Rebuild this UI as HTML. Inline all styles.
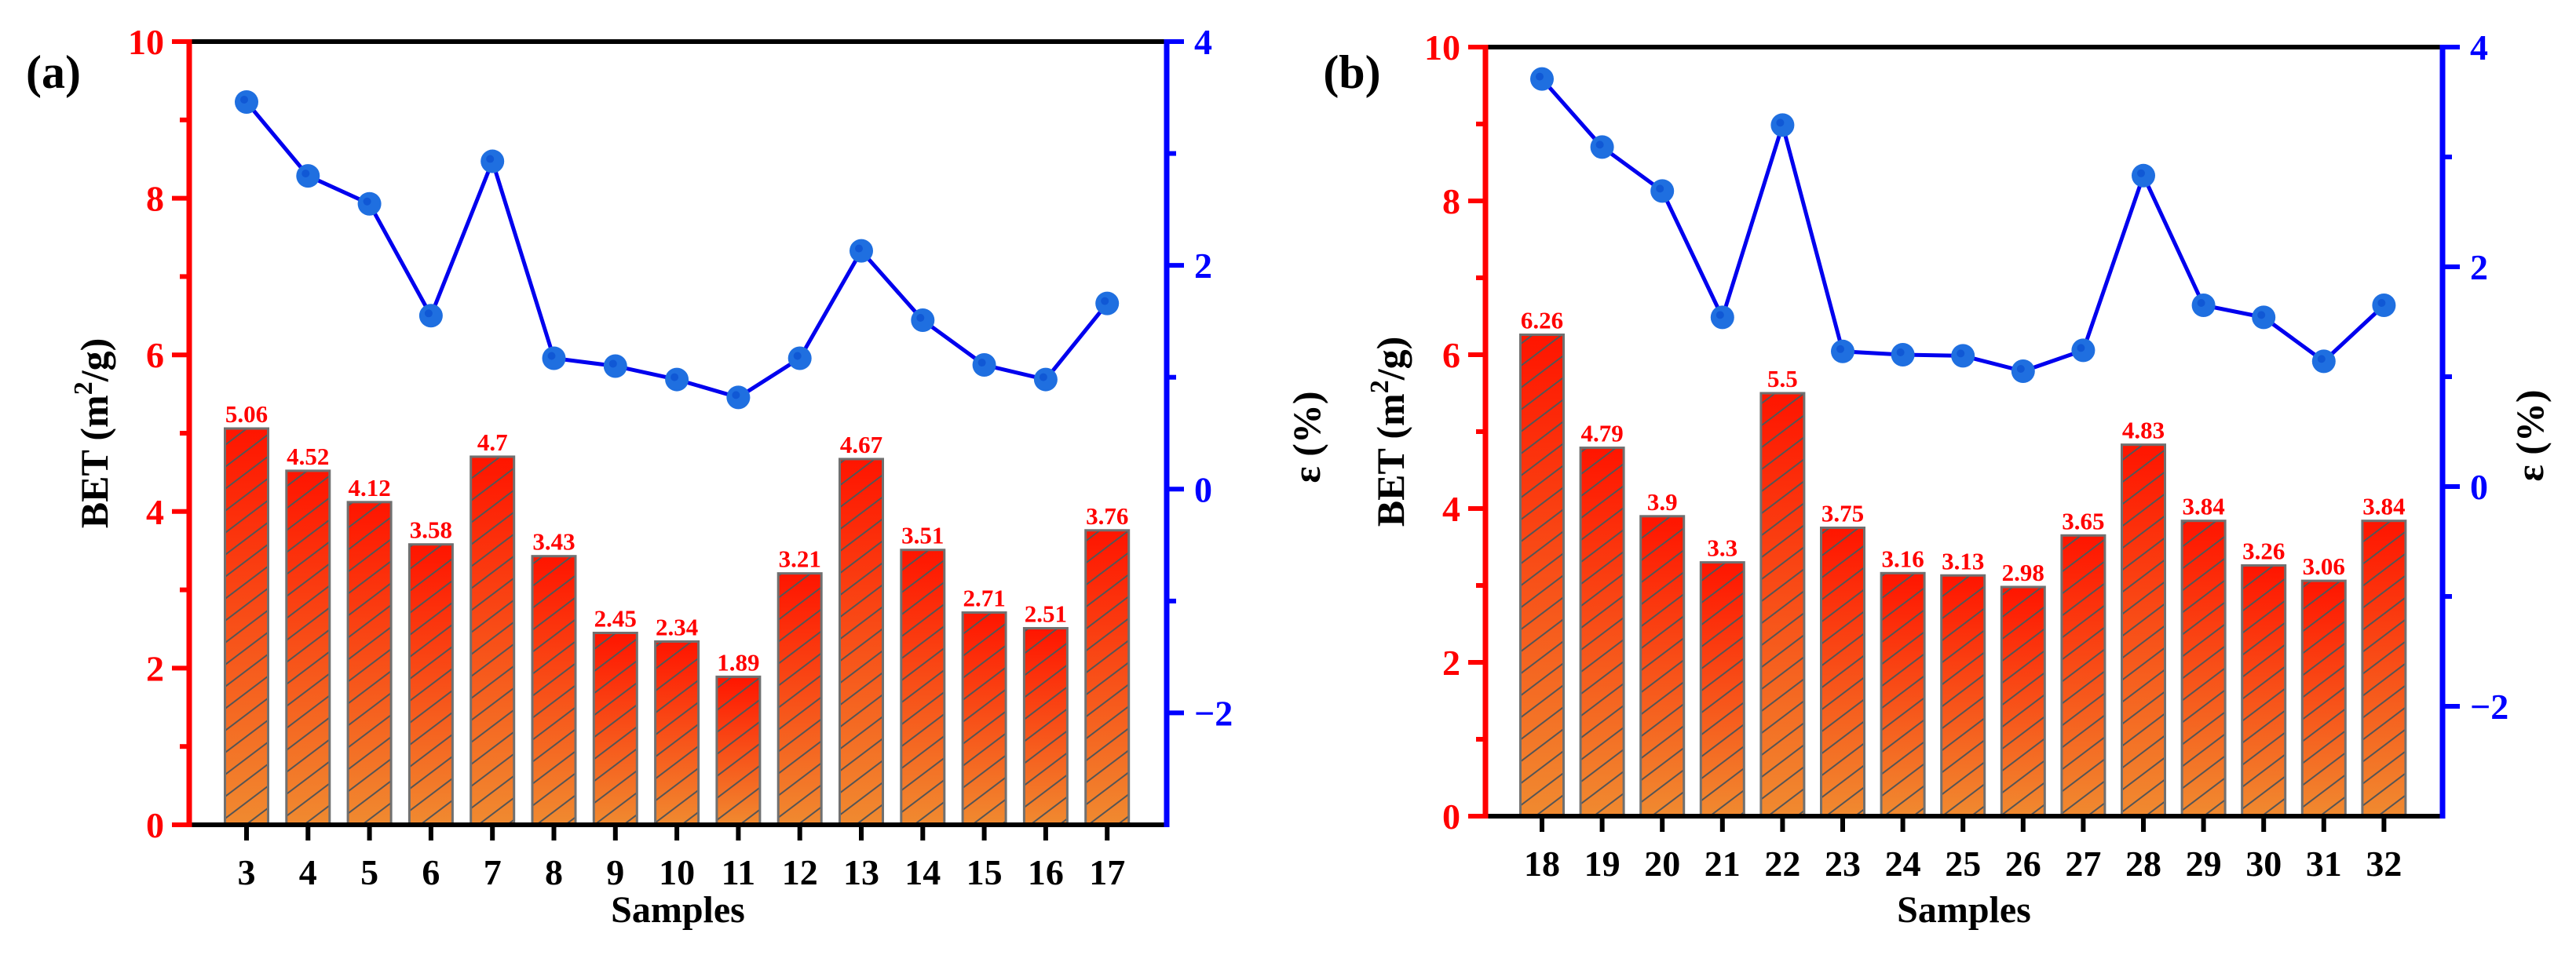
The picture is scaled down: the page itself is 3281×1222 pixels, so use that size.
<!DOCTYPE html>
<html><head><meta charset="utf-8">
<style>
html,body{margin:0;padding:0;background:#fff;}
svg{display:block;}
text{font-family:"Liberation Serif",serif;font-weight:bold;}
</style></head>
<body>
<svg id="chart" width="3281" height="1222" viewBox="0 0 3281 1222" xmlns="http://www.w3.org/2000/svg">
<defs>
<linearGradient id="barGrad" x1="0" y1="0" x2="0" y2="1">
<stop offset="0" stop-color="#ff1500"/>
<stop offset="1" stop-color="#f08a30"/>
</linearGradient>
<pattern id="hatch" patternUnits="userSpaceOnUse" width="37" height="28">
<line x1="-37" y1="28" x2="37" y2="-28" stroke="#555" stroke-width="2"/>
<line x1="0" y1="28" x2="37" y2="0" stroke="#555" stroke-width="2"/>
<line x1="0" y1="56" x2="74" y2="0" stroke="#555" stroke-width="2"/>
</pattern>
</defs>
</svg>
<script>
// Panel (a) data
const catsA = [3,4,5,6,7,8,9,10,11,12,13,14,15,16,17];
const betA = [5.06,4.52,4.12,3.58,4.7,3.43,2.45,2.34,1.89,3.21,4.67,3.51,2.71,2.51,3.76];
const epsA = [3.46,2.80,2.55,1.55,2.93,1.17,1.10,0.98,0.82,1.17,2.13,1.51,1.11,0.98,1.66];
// Panel (b) data
const catsB = [18,19,20,21,22,23,24,25,26,27,28,29,30,31,32];
const betB = [6.26,4.79,3.9,3.3,5.5,3.75,3.16,3.13,2.98,3.65,4.83,3.84,3.26,3.06,3.84];
const epsB = [3.71,3.09,2.69,1.54,3.29,1.23,1.20,1.19,1.05,1.24,2.83,1.65,1.54,1.14,1.65];
// Tick labels
const leftTicks = [0,2,4,6,8,10];
const leftMinor = [1,3,5,7,9];
const rightTicks = [-2,0,2,4];
const rightMinor = [-1,1,3];

const NS = "http://www.w3.org/2000/svg";
const svg = document.getElementById('chart');
function mk(tag, attrs, parent, txt){
  const e = document.createElementNS(NS, tag);
  for (const k in attrs) e.setAttribute(k, attrs[k]);
  if (txt !== undefined) e.textContent = txt;
  (parent || svg).appendChild(e);
  return e;
}

function panel(cfg){
  const g = mk('g', {});
  
  
  const yL = v => cfg.bottom - (v - 0) / 10 * (cfg.bottom - cfg.top);
  const yR = v => cfg.bottom - (v + 3) / 7 * (cfg.bottom - cfg.top);
  const xC = i => cfg.c0 + i * cfg.step;
  const bw = 55;

  cfg.cats.forEach((c, i) => {
    const x = xC(i) - bw/2, y = yL(cfg.bet[i]), h = cfg.bottom - y;
    const r = mk('rect', {x:x, y:y, width:bw, height:h, fill:'url(#barGrad)'}, g);
    
    
    mk('rect', {x:x, y:y, width:bw, height:h, fill:'url(#hatch)', stroke:'#707070', 'stroke-width':3}, g);
    const t = mk('text', {x:xC(i), y:y-8, 'text-anchor':'middle', 'font-size':31, fill:'#ff0000'}, g, String(cfg.bet[i]));
    
    
  });

  const pts = cfg.eps.map((v, i) => xC(i) + ',' + yR(v)).join(' ');
  const pl = mk('polyline', {points:pts, fill:'none', stroke:'#0000ee', 'stroke-width':5}, g);
  
  
  cfg.eps.forEach((v, i) => {
    const c = mk('circle', {cx:xC(i), cy:yR(v), r:15, fill:'#1f6fe0'}, g);
    
    
    mk('circle', {cx:xC(i)-3, cy:yR(v)-3, r:5, fill:'#0a4fd0', opacity:0.7}, g);
  });

  mk('line', {x1:cfg.left, y1:cfg.top, x2:cfg.right, y2:cfg.top, stroke:'#000', 'stroke-width':6}, g);
  const xa = mk('line', {x1:cfg.left, y1:cfg.bottom, x2:cfg.right, y2:cfg.bottom, stroke:'#000', 'stroke-width':6}, g);
  
  
  const la = mk('line', {x1:cfg.left, y1:cfg.top-3, x2:cfg.left, y2:cfg.bottom+3, stroke:'#ff0000', 'stroke-width':7}, g);
  
  
  const ra = mk('line', {x1:cfg.right, y1:cfg.top-3, x2:cfg.right, y2:cfg.bottom+3, stroke:'#0000ff', 'stroke-width':7}, g);
  
  

  leftTicks.forEach(v => {
    mk('line', {x1:cfg.left-22, y1:yL(v), x2:cfg.left, y2:yL(v), stroke:'#ff0000', 'stroke-width':6}, g);
    const t = mk('text', {x:cfg.left-32, y:yL(v)+16, 'text-anchor':'end', 'font-size':46, fill:'#ff0000'}, g, String(v));
    
    
  });
  leftMinor.forEach(v => mk('line', {x1:cfg.left-12, y1:yL(v), x2:cfg.left, y2:yL(v), stroke:'#ff0000', 'stroke-width':6}, g));
  rightTicks.forEach(v => {
    mk('line', {x1:cfg.right, y1:yR(v), x2:cfg.right+22, y2:yR(v), stroke:'#0000ff', 'stroke-width':6}, g);
    const t = mk('text', {x:cfg.right+35, y:yR(v)+16, 'text-anchor':'start', 'font-size':46, fill:'#0000ff'}, g, v < 0 ? '\u2212' + (-v) : String(v));
    
    
  });
  rightMinor.forEach(v => mk('line', {x1:cfg.right, y1:yR(v), x2:cfg.right+12, y2:yR(v), stroke:'#0000ff', 'stroke-width':6}, g));
  cfg.cats.forEach((c, i) => {
    mk('line', {x1:xC(i), y1:cfg.bottom, x2:xC(i), y2:cfg.bottom+20, stroke:'#000', 'stroke-width':6}, g);
    const t = mk('text', {x:xC(i), y:cfg.bottom+76, 'text-anchor':'middle', 'font-size':46, fill:'#000'}, g, String(c));
    
    
  });

  const xt = mk('text', {x:(cfg.left+cfg.right)/2, y:1175, 'text-anchor':'middle', 'font-size':48, fill:'#000'}, g, 'Samples');
  
  
  const my = (cfg.top+cfg.bottom)/2;
  const yt = mk('text', {x:0, y:0, 'text-anchor':'middle', 'font-size':50, fill:'#000', transform:'translate('+(cfg.left-104)+','+my+') rotate(-90)'}, g);
  
  
  mk('tspan', {}, yt, 'BET (m');
  mk('tspan', {dy:-20, 'font-size':34}, yt, '2');
  mk('tspan', {dy:20}, yt, '/g)');
  const rt = mk('text', {x:0, y:0, 'text-anchor':'middle', 'font-size':50, fill:'#000', transform:'translate('+(cfg.right+cfg.epsOff)+','+(my+5)+') rotate(-90)'}, g, 'ε (%)');
  
  
  const pl2 = mk('text', {x:cfg.labelX, y:112, 'text-anchor':'middle', 'font-size':60, fill:'#000'}, g, cfg.label);
  
  
}

panel({name:'panel-a', cats:catsA, bet:betA, eps:epsA, left:241, right:1486, top:53, bottom:1051, c0:314, step:78.3, label:'(a)', labelX:68, epsOff:195});
panel({name:'panel-b', cats:catsB, bet:betB, eps:epsB, left:1892, right:3111, top:60, bottom:1040, c0:1964, step:76.6, label:'(b)', labelX:1722, epsOff:128});
</script>
</body></html>
